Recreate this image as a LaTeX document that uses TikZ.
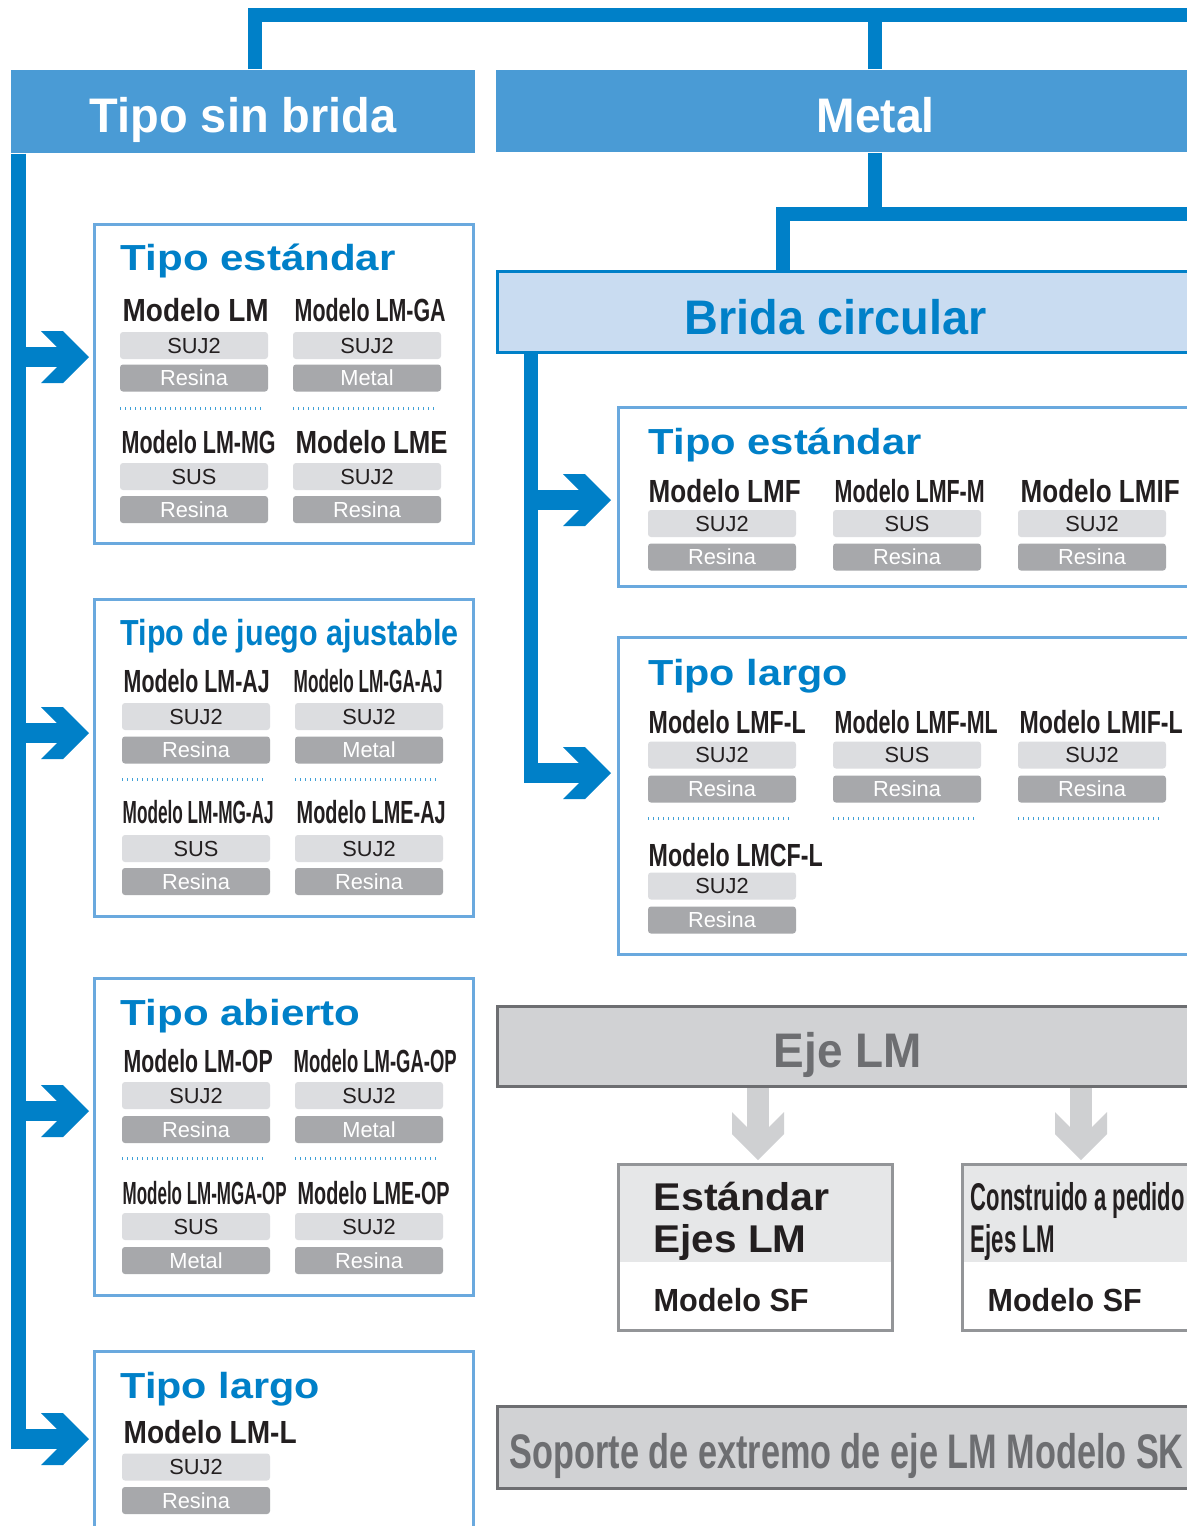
\documentclass[tikz,border=0pt]{standalone}
\usepackage{fontspec}
\setmainfont{Liberation Sans}
\usepackage{graphicx}
\usetikzlibrary{positioning}
\newlength\pxu \setlength\pxu{0.01cm}
\definecolor{lmblue}{HTML}{0080C8}
\definecolor{hdblue}{HTML}{4A9BD5}
\definecolor{boxblue}{HTML}{6AA9DE}
\definecolor{bridafill}{HTML}{C9DCF1}
\definecolor{pilllight}{HTML}{DCDDE0}
\definecolor{pilldark}{HTML}{A7A8AB}
\definecolor{ejefill}{HTML}{D1D2D4}
\definecolor{ejeline}{HTML}{6D6E71}
\definecolor{arrowgray}{HTML}{CFD0D2}
\definecolor{sfline}{HTML}{939598}
\definecolor{band}{HTML}{E6E7E8}
\definecolor{ink}{HTML}{231F20}
\newcommand\fitw[2]{\resizebox{#1\pxu}{\height}{#2}}
\newcommand\hdfont{\fontsize{13.8}{16}\selectfont\bfseries}
\newcommand\ttlfont{\fontsize{10.3}{12}\selectfont\bfseries}
\newcommand\modfont{\fontsize{9.1}{11}\selectfont\bfseries}
\newcommand\sffont{\fontsize{11}{13}\selectfont\bfseries}
\newcommand\pillfont{\fontsize{6.2}{7}\selectfont}
\begin{document}
\begin{tikzpicture}
[x=0.01cm,y=-0.01cm,
conn/.style={draw=lmblue,line width=14\pxu},
hdbox/.style={fill=hdblue,inner sep=0},
grpbox/.style={draw=boxblue,line width=3\pxu,fill=white,inner sep=0},
grybox/.style={draw=ejeline,fill=ejefill,line width=3\pxu,inner sep=0},
sfbox/.style={draw=sfline,line width=3\pxu,inner sep=0},
lbl/.style={anchor=base west,inner sep=0,text=ink},
ttl/.style={anchor=base west,inner sep=0,text=lmblue},
pillA/.style={fill=pilllight,text=ink,rounded corners=3\pxu,minimum width=148\pxu,minimum height=27\pxu,inner sep=0,font=\pillfont},
pillB/.style={pillA,fill=pilldark,text=white},
dots/.style={draw=lmblue!75,line width=3\pxu,dash pattern=on 1\pxu off 4\pxu}]
\useasboundingbox (0,0) rectangle (1187,1526);
\clip (0,0) rectangle (1187,1526);
\fill[white] (0,0) rectangle (1187,1526);

%Header boxes
\node[hdbox,minimum width=464\pxu,minimum height=83\pxu] (sinbrida) at (243,111.5) {};
\node[hdbox,minimum width=758\pxu,minimum height=82\pxu] (metal) at (875,111) {};
\node[grpbox,draw=lmblue,fill=bridafill,minimum width=740\pxu,minimum height=81\pxu] (brida) at (867.5,312) {};
\node[lbl,text=white] (sinbridatxt) at (89,132) {\fitw{307}{\hdfont Tipo sin brida}};
\node[lbl,text=white] (metaltxt) at (816,132) {\fitw{118}{\hdfont Metal}};
\node[ttl] (bridatxt) at (684,334) {\fitw{302}{\hdfont Brida circular}};

%Connecting lines
\coordinate (tl) at (255,15);
\coordinate (tr) at (1220,15);
\coordinate (ml) at (783,214);
\coordinate (mr) at (1220,214);
\draw[conn] (sinbrida.north -| tl) -- (tl) -- (tr);
\draw[conn] (metal.north) -- (metal.north |- tl);
\draw[conn] (metal.south) -- (metal.south |- ml);
\draw[conn] (brida.north -| ml) -- (ml) -- (mr);
\draw[conn,line width=15\pxu] (sinbrida.south -| 18.5,0) -- (18.5,1449);
\draw[conn] (brida.south -| 531,0) -- (531,783);

%Drawing arrows
\foreach \y in {357,733,1111,1439}{
  \fill[lmblue] (11,\y-10) rectangle (67,\y+10);
  \fill[lmblue] (41,\y-26) -- (63,\y-26) -- (89,\y) -- (63,\y+26) -- (41,\y+26) -- (67,\y) -- cycle;
}
\foreach \y in {500,773}{
  \fill[lmblue] (524,\y-10) rectangle (589,\y+10);
  \fill[lmblue] (563,\y-26) -- (585,\y-26) -- (611,\y) -- (585,\y+26) -- (563,\y+26) -- (589,\y) -- cycle;
}

%Group boxes
\node[grpbox,minimum width=379\pxu,minimum height=319\pxu] (std1) at (284,384) {};
\node[grpbox,minimum width=379\pxu,minimum height=317\pxu] (aj) at (284,758) {};
\node[grpbox,minimum width=379\pxu,minimum height=317\pxu] (open) at (284,1137) {};
\node[grpbox,minimum width=379\pxu,minimum height=267\pxu] (long1) at (284,1485) {};
\node[grpbox,minimum width=630\pxu,minimum height=179\pxu] (std2) at (933.5,497) {};
\node[grpbox,minimum width=630\pxu,minimum height=317\pxu] (long2) at (933.5,796) {};

%Titles
\node[ttl] (std1txt) at (120,270) {\fitw{275}{\ttlfont Tipo estándar}};
\node[ttl] (ajtxt) at (120,645) {\fitw{338}{\ttlfont Tipo de juego ajustable}};
\node[ttl] (opentxt) at (120,1025) {\fitw{240}{\ttlfont Tipo abierto}};
\node[ttl] (long1txt) at (120,1398) {\fitw{199}{\ttlfont Tipo largo}};
\node[ttl] (std2txt) at (648,454) {\fitw{273}{\ttlfont Tipo estándar}};
\node[ttl] (long2txt) at (648,685) {\fitw{199}{\ttlfont Tipo largo}};

%Model names
\foreach \x/\y/\w/\t [count=\i] in {122/321/146/Modelo LM, 294/321/151/Modelo LM-GA,
  121/453/154/Modelo LM-MG, 295/453/152/Modelo LME,
  123/692/146/Modelo LM-AJ, 293/692/149/Modelo LM-GA-AJ,
  122/823/151/Modelo LM-MG-AJ, 296/823/149/Modelo LME-AJ,
  123/1072/149/Modelo LM-OP, 293/1072/163/Modelo LM-GA-OP,
  122/1204/164/Modelo LM-MGA-OP, 297/1204/152/Modelo LME-OP,
  123/1443/173/Modelo LM-L,
  648/502/152/Modelo LMF, 834/502/150/Modelo LMF-M, 1020/502/159/Modelo LMIF,
  648/733/157/Modelo LMF-L, 834/733/163/Modelo LMF-ML, 1019/733/163/Modelo LMIF-L,
  648/866/174/Modelo LMCF-L}
  \node[lbl] (m\i) at (\x,\y) {\fitw{\w}{\modfont \t}};

%Material tags
\foreach \x/\y/\t [count=\i] in {194/345.5/SUJ2, 367/345.5/SUJ2, 194/476.5/SUS, 367/476.5/SUJ2,
  196/716.5/SUJ2, 369/716.5/SUJ2, 196/848.5/SUS, 369/848.5/SUJ2,
  196/1095.5/SUJ2, 369/1095.5/SUJ2, 196/1226.5/SUS, 369/1226.5/SUJ2,
  196/1467/SUJ2,
  722/523.5/SUJ2, 907/523.5/SUS, 1092/523.5/SUJ2,
  722/755/SUJ2, 907/755/SUS, 1092/755/SUJ2, 722/886/SUJ2}
  \node[pillA] (ma\i) at (\x,\y) {\t};
\foreach \x/\y/\t [count=\i] in {194/378/Resina, 367/378/Metal, 194/509.5/Resina, 367/509.5/Resina,
  196/750/Resina, 369/750/Metal, 196/881.5/Resina, 369/881.5/Resina,
  196/1129.5/Resina, 369/1129.5/Metal, 196/1260.5/Metal, 369/1260.5/Resina,
  196/1500.5/Resina,
  722/557/Resina, 907/557/Resina, 1092/557/Resina,
  722/789/Resina, 907/789/Resina, 1092/789/Resina, 722/920/Resina}
  \node[pillB] (mb\i) at (\x,\y) {\t};

%Dotted separators
\foreach \x/\y in {120/408, 293/408, 122/779, 295/779, 122/1158, 295/1158, 648/818, 833/818, 1018/818}
  \draw[dots] (\x,\y) -- (\x+143,\y);

%Eje LM
\node[grybox,minimum width=751\pxu,minimum height=80\pxu] (eje) at (873,1046.5) {};
\node[lbl,text=ejeline] (ejetxt) at (773,1067) {\fitw{148}{\hdfont Eje LM}};
\foreach \x in {758,1081}{
  \fill[arrowgray] (\x-11,1088) rectangle (\x+11,1138);
  \fill[arrowgray] (\x-26,1112) -- (\x-26,1134) -- (\x,1160) -- (\x+26,1134) -- (\x+26,1112) -- (\x,1138) -- cycle;
}
\fill[band] (617,1163) rectangle (894,1262);
\fill[band] (961,1163) rectangle (1220,1262);
\node[sfbox,minimum width=274\pxu,minimum height=166\pxu] (sfstd) at (755.5,1247.5) {};
\node[sfbox,minimum width=286\pxu,minimum height=166\pxu] (sfcust) at (1105.5,1247.5) {};
\node[lbl] (sfstd1) at (653,1210) {\fitw{176}{\sffont Estándar}};
\node[lbl] (sfstd2) at (653,1252) {\fitw{153}{\sffont Ejes LM}};
\node[lbl] (sfstd3) at (653,1311) {\fitw{155}{\modfont Modelo SF}};
\node[lbl] (sfcust1) at (970,1210) {\fitw{214}{\sffont Construido a pedido}};
\node[lbl] (sfcust2) at (970,1252) {\fitw{84}{\sffont Ejes LM}};
\node[lbl] (sfcust3) at (987,1311) {\fitw{154}{\modfont Modelo SF}};

%Soporte SK
\node[grybox,minimum width=751\pxu,minimum height=82\pxu] (sk) at (873,1447.5) {};
\node[lbl,text=ejeline] (sktxt) at (509,1468) {\fitw{674}{\hdfont Soporte de extremo de eje LM Modelo SK}};
\end{tikzpicture}
\end{document}
